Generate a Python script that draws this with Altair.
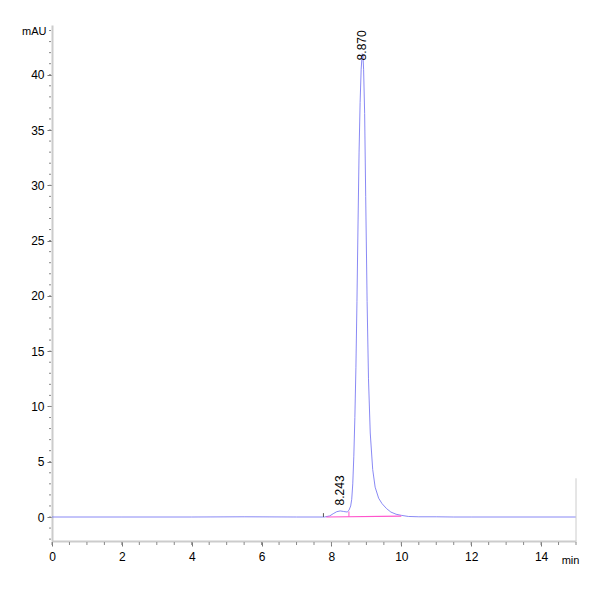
import altair as alt
import pandas as pd

# Chromatogram trace (minutes, mAU)
time_min = [0.0, 2.0, 4.0, 5.5, 7.0, 7.75, 7.80, 7.95, 8.05, 8.15, 8.25, 8.35, 8.45,
            8.50, 8.55, 8.58, 8.61, 8.64, 8.67, 8.70, 8.73, 8.76, 8.79, 8.82, 8.85,
            8.88, 8.90, 8.92, 8.95, 8.98, 9.02, 9.06, 9.11, 9.18, 9.25, 9.35, 9.45,
            9.58, 9.70, 9.85, 10.0, 10.2, 10.5, 11.0, 11.5, 12.0, 15.0]
signal_mau = [0.0, 0.0, 0.0, 0.02, 0.0, 0.0, 0.0, 0.1, 0.3, 0.48, 0.55, 0.5, 0.45,
              0.6, 1.0, 1.6, 3.0, 5.5, 9.0, 13.5, 19.5, 26.5, 33.0, 37.5, 40.5,
              41.9, 41.8, 40.5, 36.5, 29.0, 19.5, 12.5, 7.6, 4.3, 2.7, 1.7, 1.2,
              0.75, 0.45, 0.25, 0.15, 0.05, 0.02, 0.02, 0.0, 0.0, 0.0]

# Integration baseline and drop line (pink)
base_time = [7.85, 10.0]
base_mau = [0.0, 0.08]
drop_time = [8.5, 8.5]
drop_mau = [0.03, 0.5]

# Peak labels
peak_rt = [8.243, 8.870]
peak_label = ["8.243", "8.870"]
label_y = [1.05, 41.3]

# Event marker
marker_t = [7.77]
marker_y0 = [0.0]
marker_y1 = [0.35]

# Axis ticks
x_major = [0, 2, 4, 6, 8, 10, 12, 14]
x_minor = [i * 0.5 for i in range(0, 31)]
y_major = [0, 5, 10, 15, 20, 25, 30, 35, 40]
y_minor = list(range(-2, 45))

Y_DOM = [-2.17, 44.5]
X_DOM = [0, 15]
W, H = 524, 516

FONT = "Liberation Sans"

trace_df = pd.DataFrame({"t": time_min, "v": signal_mau})
base_df = pd.DataFrame({"t": base_time, "v": base_mau})
drop_df = pd.DataFrame({"t": drop_time, "v": drop_mau})
lab_df = pd.DataFrame({"t": peak_rt, "v": label_y, "label": peak_label})
mk_df = pd.DataFrame({"t": marker_t, "v0": marker_y0, "v1": marker_y1})
xmin_df = pd.DataFrame({"t": x_minor})
ymin_df = pd.DataFrame({"v": y_minor})

x_enc = alt.X("t:Q", scale=alt.Scale(domain=X_DOM, nice=False, zero=False),
              axis=alt.Axis(values=x_major, title="min", titleAngle=0,
                            titleAlign="center", titleX=518, titleY=19,
                            titleBaseline="middle", titleFont=FONT, titleFontSize=11,
                            titleFontWeight="normal", titleColor="#000",
                            labelOverlap=False, labelFlush=False,
                            labelFont=FONT, labelFontSize=12, labelColor="#000",
                            labelPadding=5, tickSize=5, tickColor="#777",
                            domainColor="#cccccc", domainWidth=2, grid=False))
y_enc = alt.Y("v:Q", scale=alt.Scale(domain=Y_DOM, nice=False, zero=False),
              axis=alt.Axis(values=y_major, title="mAU", titleAngle=0,
                            titleAlign="right", titleX=-6, titleY=6,
                            titleBaseline="middle", titleFont=FONT, titleFontSize=11,
                            titleFontWeight="normal", titleColor="#000",
                            labelOverlap=False, labelFlush=False,
                            labelFont=FONT, labelFontSize=12, labelColor="#000",
                            labelPadding=3, tickSize=5, tickColor="#777",
                            domainColor="#cccccc", domainWidth=2, grid=False))

trace = alt.Chart(trace_df).mark_line(color="#7474f2", strokeWidth=1, opacity=0.85,
                                      clip=True).encode(x=x_enc, y=y_enc)
base = alt.Chart(base_df).mark_line(color="#ff55cc", strokeWidth=1.2).encode(x="t:Q", y="v:Q")
drop = alt.Chart(drop_df).mark_line(color="#ff55cc", strokeWidth=1).encode(x="t:Q", y="v:Q")
marker = alt.Chart(mk_df).mark_rule(color="#555", strokeWidth=1).encode(
    x="t:Q", y="v0:Q", y2="v1:Q")
labels = alt.Chart(lab_df).mark_text(angle=270, align="left", baseline="middle",
                                     font=FONT, fontSize=12,
                                     color="#000").encode(x="t:Q", y="v:Q", text="label:N")
right_edge = alt.Chart(pd.DataFrame({"x": [15.0], "y0": [3.5], "y1": [-2.17]})).mark_rule(
    color="#cccccc", strokeWidth=1).encode(x="x:Q", y="y0:Q", y2="y1:Q")
x_minor_ticks = alt.Chart(xmin_df).mark_rule(color="#888", strokeWidth=1).encode(
    x="t:Q", y=alt.value(H + 1), y2=alt.value(H + 4))
y_minor_ticks = alt.Chart(ymin_df).mark_rule(color="#888", strokeWidth=1).encode(
    y="v:Q", x=alt.value(-3), x2=alt.value(-1))

chart = alt.layer(trace, base, drop, marker, labels, right_edge,
                  x_minor_ticks, y_minor_ticks).properties(
    width=W, height=H,
    autosize=alt.AutoSizeParams(type="none"),
    padding={"left": 44, "top": 17, "right": 16, "bottom": 51},
    background="white",
).configure_view(stroke=None)

chart.save("out.html", embed_options={"renderer": "svg", "actions": False})
